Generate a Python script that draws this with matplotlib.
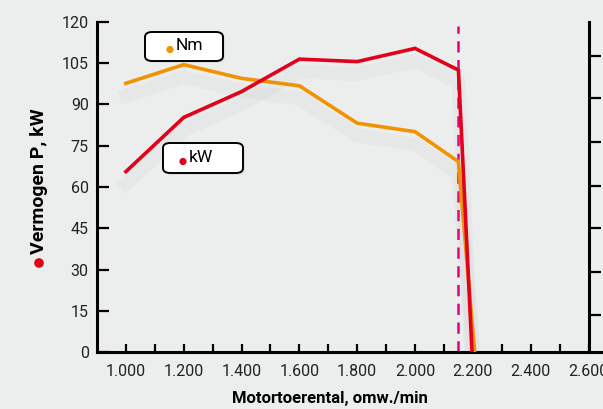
import matplotlib
matplotlib.use("Agg")
import matplotlib.pyplot as plt
from matplotlib.patches import FancyBboxPatch, Circle
import matplotlib.patheffects as pe

# ---- data ----
rpm_kw = [1000, 1200, 1400, 1600, 1800, 2000, 2150, 2197]
kw = [65.6, 85.3, 94.7, 106.5, 105.6, 110.4, 102.5, 0]
rpm_nm = [1000, 1200, 1400, 1600, 1800, 2000, 2150, 2206]
nm = [97.7, 104.5, 99.5, 96.8, 83.2, 80.1, 69.2, 0]
x_major = [1000, 1200, 1400, 1600, 1800, 2000, 2200, 2400, 2600]
x_labels = ["1.000", "1.200", "1.400", "1.600", "1.800", "2.000", "2.200", "2.400", "2.600"]
x_minor = [1100, 1300, 1500, 1700, 1900, 2100, 2300, 2500]
y_ticks = [0, 15, 30, 45, 60, 75, 90, 105, 120]
right_ticks = [13.5, 29.2, 45.0, 60.5, 76.5, 92.3, 107.6]
rated_rpm = 2150

BG = "#eceeed"
RED = "#e2001a"
ORANGE = "#f39200"
MAGENTA = "#e6007e"
FONT = ["Roboto", "DejaVu Sans"]

plt.rcParams["font.family"] = FONT

W, H = 603, 409
fig = plt.figure(figsize=(W / 100, H / 100), dpi=100, facecolor=BG)
ax = fig.add_axes([97 / W, (H - 352) / H, (W - 97) / W, 330 / H])
ax.set_facecolor(BG)
ax.set_xlim(900, 2650)
ax.set_ylim(0, 120)

ax.spines["top"].set_visible(False)
ax.spines["right"].set_position(("data", 2600))
for s in ["left", "bottom", "right"]:
    ax.spines[s].set_linewidth(2.2)
    ax.spines[s].set_color("black")

ax.set_xticks(x_major)
ax.set_xticklabels(x_labels)
ax.set_xticks(x_minor, minor=True)
ax.set_yticks(y_ticks)
ax.set_yticklabels([str(v) for v in y_ticks])
ax.tick_params(axis="x", which="both", direction="in", length=6, width=1.6,
               labelsize=11.5, pad=9, colors="black", labelcolor="#222222")
ax.tick_params(axis="y", which="both", direction="in", length=8.5, width=1.6,
               labelsize=11.5, pad=6, labelcolor="#222222")

# right axis ticks (outward)
ax2 = ax.twinx()
ax2.set_ylim(0, 120)
ax2.set_xlim(900, 2650)
for s in ax2.spines.values():
    s.set_visible(False)
ax2.spines["right"].set_position(("data", 2600))
ax2.set_yticks(right_ticks)
ax2.set_yticklabels([])
ax2.tick_params(axis="y", direction="out", length=8.5, width=1.6)

# dashed rated line
ax.plot([rated_rpm, rated_rpm], [0, 118.5], color=MAGENTA, lw=1.8,
        dashes=(4.5, 3.0), zorder=2)

shadow = [pe.SimpleLineShadow(offset=(0, -9), shadow_color="#8a8a8a", alpha=0.06, linewidth=10), pe.Normal()]
ax.plot(rpm_nm, nm, color=ORANGE, lw=2.6, solid_joinstyle="miter", zorder=3, path_effects=shadow)
ax.plot(rpm_kw, kw, color=RED, lw=2.6, solid_joinstyle="miter", zorder=4, path_effects=shadow)

# legend boxes (figure pixel coords)
def px(x, y):
    return x / W, 1 - y / H

def label_box(x0, y0, x1, y1, dot_xy, text_x, text, color):
    bx, by = px(x0, y1)
    bw, bh = (x1 - x0) / W, (y1 - y0) / H
    sh = FancyBboxPatch((bx + 2 / W, by - 2 / H), bw, bh, boxstyle="round,pad=0,rounding_size=0.012",
                        transform=fig.transFigure, facecolor="#c8c8c8", edgecolor="none", alpha=0.4, zorder=8)
    fig.add_artist(sh)
    box = FancyBboxPatch((bx, by), bw, bh, boxstyle="round,pad=0,rounding_size=0.012",
                         transform=fig.transFigure, facecolor="white", edgecolor="black", linewidth=1.4, zorder=9)
    fig.add_artist(box)
    fig.add_artist(Circle((dot_xy[0], H - dot_xy[1]), 3.6, transform=None, facecolor=color,
                          edgecolor="none", zorder=10))
    tx, ty = px(text_x, (y0 + y1) / 2 - 1)
    fig.text(tx, ty, text, fontsize=12.5, ha="left", va="center", color="black", zorder=11)

label_box(145, 32, 223, 61, (170, 49.5), 176, "Nm", ORANGE)
label_box(163, 143, 243, 173, (183, 161.5), 189, "kW", RED)

# axis labels
fig.text(330 / W, 1 - 399 / H, "Motortoerental, omw./min", fontsize=12, fontweight="bold",
         ha="center", va="center")
fig.text(39 / W, 1 - 181 / H, "Vermogen P, kW", fontsize=14, fontweight="bold",
         ha="center", va="center", rotation=90)
fig.add_artist(Circle((39, H - 263), 4.8, transform=None, facecolor=RED, edgecolor="none"))

fig.savefig("out.png", dpi=100, facecolor=BG)
